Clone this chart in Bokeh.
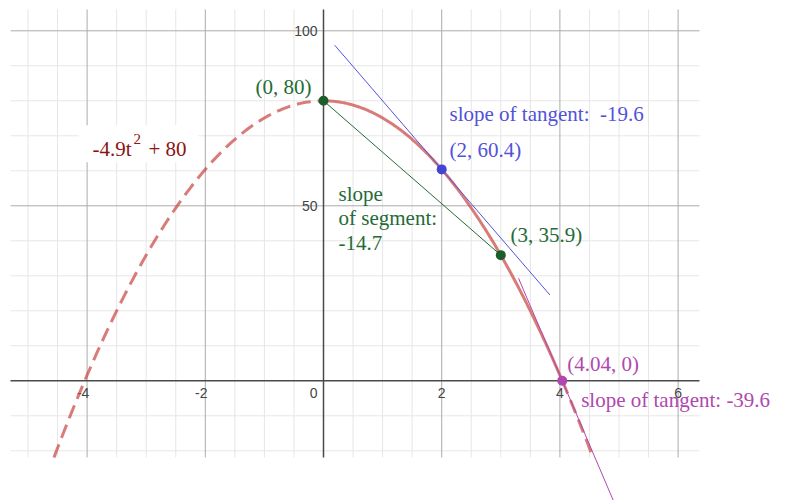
import numpy as np
from bokeh.plotting import figure
from bokeh.models import Range1d
from bokeh.core.properties import value
from bokeh.embed import file_html
from bokeh.resources import INLINE

# ---------------- data ----------------
coef_a = -4.9          # h(t) = a t^2 + c
coef_c = 80.0
point_t = [0.0, 2.0, 3.0, 4.04]
point_h = [80.0, 60.4, 35.9, 0.0]
point_labels = ["(0, 80)", "(2, 60.4)", "(3, 35.9)", "(4.04, 0)"]
tangent_t = [2.0, 4.04]
tangent_h = [60.4, 0.0]
tangent_slope = [-19.6, -39.6]
tangent_from = [0.19, 3.3]
tangent_to = [3.83, 5.2]
segment_slope = -14.7
x_tick_values = [-4, -2, 0, 2, 4, 6]
x_tick_labels = ["-4", "-2", "0", "2", "4", "6"]
y_tick_values = [50, 100]
y_tick_labels = ["50", "100"]

# ---------------- layout ----------------
W, H = 786, 500
PXX, PXY = 59.1, 3.5
x0 = -323 / PXX
x1 = x0 + W / PXX
y1 = 380.3 / PXY
y0 = y1 - H / PXY
gx0, gx1, gy0, gy1 = -5.296, 6.362, -21.9, 106.09

p = figure(width=W, height=H, x_range=Range1d(x0, x1), y_range=Range1d(y0, y1),
           output_backend="svg", toolbar_location=None, min_border=0,
           x_axis_location=None, y_axis_location=None,
           outline_line_color=None, background_fill_color="white",
           border_fill_color="white")
p.grid.visible = False

# grid
vx_minor = [v for v in np.arange(-5.0, 6.01, 0.5) if v % 2 != 0]
hy_minor = [v for v in np.arange(-20, 101, 10) if v % 50 != 0]
vx_major = [v for v in x_tick_values if v != 0]
hy_major = [v for v in y_tick_values]

p.segment(x0=vx_minor, y0=[gy0] * len(vx_minor), x1=vx_minor, y1=[gy1] * len(vx_minor),
          line_color="#e6e6e6", line_width=1)
p.segment(x0=[gx0] * len(hy_minor), y0=hy_minor, x1=[gx1] * len(hy_minor), y1=hy_minor,
          line_color="#e6e6e6", line_width=1)
p.segment(x0=vx_major, y0=[gy0] * len(vx_major), x1=vx_major, y1=[gy1] * len(vx_major),
          line_color="#ababab", line_width=1)
p.segment(x0=[gx0] * len(hy_major), y0=hy_major, x1=[gx1] * len(hy_major), y1=hy_major,
          line_color="#ababab", line_width=1)
# axes
p.segment(x0=[gx0, 0], y0=[0, gy0], x1=[gx1, 0], y1=[0, gy1], line_color="#4a4a4a", line_width=1.5)

# tick labels
tick_font = value("Liberation Sans")
TFS = "14px"
TSH = -5
xt = [(v, l) for v, l in zip(x_tick_values, x_tick_labels) if v != 0]
neg = [(v, l) for v, l in xt if v < 0]
pos = [(v, l) for v, l in xt if v > 0]
p.text(x=[v for v, _ in neg], y=[0] * len(neg), text=[l for _, l in neg],
       text_font=tick_font, text_font_size=TFS, text_color="#444444",
       text_align="center", text_baseline="alphabetic", x_offset=-4, y_offset=17 + TSH)
p.text(x=[v for v, _ in pos], y=[0] * len(pos), text=[l for _, l in pos],
       text_font=tick_font, text_font_size=TFS, text_color="#444444",
       text_align="center", text_baseline="alphabetic", y_offset=17 + TSH)
p.text(x=[0], y=[0], text=["0"], text_font=tick_font, text_font_size=TFS,
       text_color="#444444", text_align="right", text_baseline="alphabetic",
       x_offset=-6, y_offset=17 + TSH)
p.text(x=[0] * len(y_tick_values), y=y_tick_values, text=y_tick_labels,
       text_font=tick_font, text_font_size=TFS, text_color="#444444",
       text_align="right", text_baseline="alphabetic", x_offset=-6, y_offset=5.5 + TSH)

# curve
t_end = np.sqrt((coef_c - gy0) / -coef_a)
t_solid = np.linspace(point_t[0], point_t[-1], 200)
t_left = np.linspace(-t_end, point_t[0], 200)
t_right = np.linspace(point_t[-1], t_end, 40)
curve_color = "#c74440"
p.line(t_solid, coef_a * t_solid ** 2 + coef_c, line_color=curve_color, line_alpha=0.7, line_width=3)
p.line(t_left, coef_a * t_left ** 2 + coef_c, line_color=curve_color, line_alpha=0.7,
       line_width=3, line_dash="14 7")
p.line(t_right, coef_a * t_right ** 2 + coef_c, line_color=curve_color, line_alpha=0.7,
       line_width=3, line_dash="14 7")

# secant segment
green = "#246b36"
p.line([point_t[0], point_t[2]], [point_h[0], point_h[2]], line_color=green, line_width=1)

# tangent lines
blue = "#5252da"
purple = "#b048b0"
for tt, hh, m, a, b, c in zip(tangent_t, tangent_h, tangent_slope, tangent_from, tangent_to, [blue, purple]):
    xs = np.array([a, b])
    p.line(xs, hh + m * (xs - tt), line_color=c, line_width=1)

# points
p.scatter(point_t, point_h, size=10, line_color=None,
          fill_color=["#1c5e2b", "#4444d4", "#1c5e2b", "#b048b0"])

serif = value("Liberation Serif")
FS = "21px"
SH = -7

def lab(x, y, txt, color, dx, dy, size=FS):
    p.text(x=[x], y=[y], text=[txt], text_font=serif, text_font_size=size,
           text_color=color, text_align="left", text_baseline="alphabetic",
           x_offset=dx, y_offset=dy + SH)

# point labels
lab(point_t[0], point_h[0], point_labels[0], green, -68, -7.3)
lab(point_t[1], point_h[1], point_labels[1], blue, 7.8, -12.4)
lab(point_t[1], point_h[1], "slope of tangent:\u00a0 " + str(tangent_slope[0]), blue, 7.8, -48)
lab(point_t[2], point_h[2], point_labels[2], green, 9.7, -13.2)
lab(point_t[3], point_h[3], point_labels[3], purple, 4.9, -10.3)
lab(point_t[3], point_h[3], "slope of tangent: " + str(tangent_slope[1]), purple, 18.9, 26.4)

# secant slope text
seg_lines = ["slope", "of segment:", str(segment_slope)]
for i, s in enumerate(seg_lines):
    lab(point_t[0], point_h[0], s, green, 15, 99.7 + 24.6 * i)

# function label with white box
lx, ly = -3.909, 64.09
dark_red = "#8c1414"
p.rect(x=[lx + 46 / PXX], y=[ly + 12.7 / PXY], width=120, height=37,
       width_units="screen", height_units="screen", fill_color="white", line_color=None)
lab(lx, ly, "-4.9t", dark_red, 0, 0)
lab(lx, ly, "2", dark_red, 41, -10, size="15px")
lab(lx, ly, "+ 80", dark_red, 56, 0)

open("out.html", "w").write(file_html(p, INLINE))
